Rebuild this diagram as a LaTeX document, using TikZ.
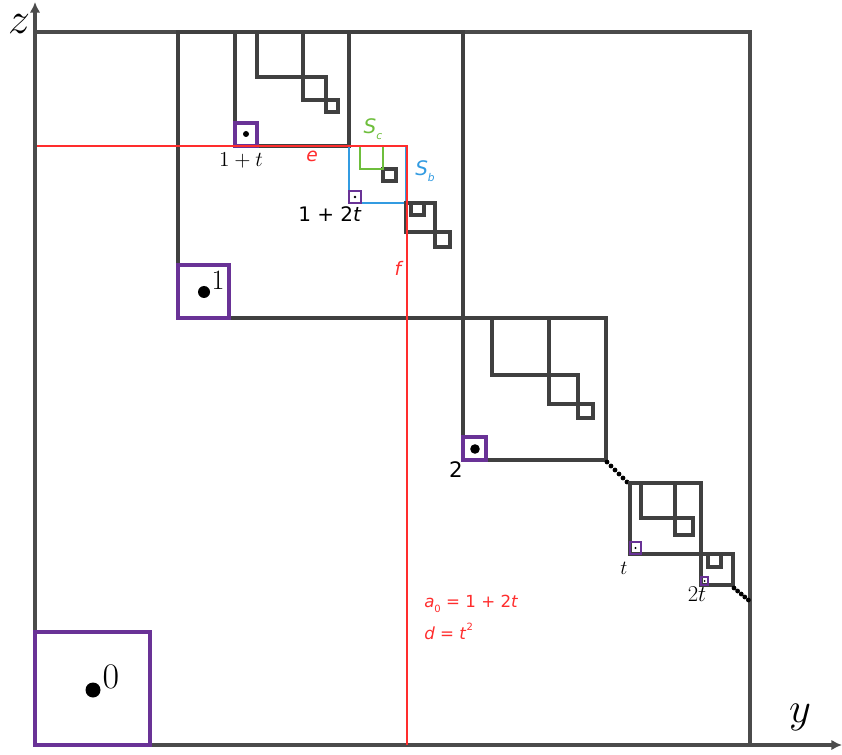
\RequirePackage{fix-cm}
\documentclass[tikz,border=0pt]{standalone}
\usepackage{fontspec}
\usepackage{amsmath}
\usetikzlibrary{arrows.meta}
\newfontfamily\sansf{DejaVu Sans}

\definecolor{framegray}{RGB}{75,75,75}
\definecolor{purp}{RGB}{105,50,150}
\definecolor{sqgreen}{RGB}{110,190,60}
\definecolor{sqblue}{RGB}{50,155,225}
\definecolor{redline}{RGB}{255,45,45}

\tikzset{
  outer/.style={draw=framegray, line width=2.6pt},
  box/.style={draw=black!75, line width=2.4pt},
  marker/.style={draw=purp, line width=2.4pt},
  lab/.style={inner sep=0pt},
}

\begin{document}
\begin{tikzpicture}[x=0.75pt, y=-0.75pt]
    \useasboundingbox (0,0) rectangle (842,755);

    % Axes and outer square
    \draw[framegray, line width=2.6pt, -{Latex[length=8pt,width=8pt]}] (35,745) -- (35,2);
    \draw[framegray, line width=2.6pt, -{Latex[length=8pt,width=8pt]}] (35,745) -- (842,745);
    \draw[outer] (35,32) -- (750,32) -- (750,745);
    \node[lab, font=\fontsize{33}{37}\selectfont] (zlab) at (19,24) {$z$};
    \node[lab, font=\fontsize{32}{36}\selectfont] (ylab) at (800,717) {$y$};

    % Square 0
    \draw[marker] (35,632) rectangle (150,745);
    \fill (93,690) circle (7.5);
    \node[lab, font=\fontsize{27}{31}\selectfont] (lab0) at (111,677) {$0$};

    % Square 1
    \draw[box] (178,32) rectangle (463,318);
    \draw[marker] (178,265) rectangle (229,318);
    \fill (204,292) circle (6);
    \node[lab, font=\fontsize{21}{25}\selectfont] (lab1) at (218,280) {$1$};

    % Square 1+t and its staircase
    \draw[box] (235,32) rectangle (349,146);
    \draw[marker] (235,123) rectangle (257,146);
    \fill (246,134) circle (3);
    \node[lab, font=\fontsize{16}{19}\selectfont] (lab1t) at (241,160) {$1+t$};
    \draw[box] (257,32) rectangle (303,77);
    \draw[box] (303,77) rectangle (326,100);
    \draw[box] (326,100) rectangle (338,112);

    % Square S_b and S_c
    \draw[box] (383,169) rectangle (396,181);
    \draw[sqgreen, line width=2.2pt] (360,146) rectangle (383,169);
    \draw[sqblue, line width=2.2pt] (349,146) rectangle (406,203);
    \draw[marker, line width=2.2pt] (349,191) rectangle (361,203);
    \fill (355,197) circle (1.3);
    \node[lab, text=sqgreen, font=\sansf\fontsize{15}{18}\selectfont] (labSc) at (373,129) {\textit{S}\raisebox{-0.6ex}{\fontsize{8}{9}\selectfont\textit{c}}};
    \node[lab, text=sqblue, font=\sansf\fontsize{15}{18}\selectfont] (labSb) at (425,171) {\textit{S}\raisebox{-0.6ex}{\fontsize{8}{9}\selectfont\textit{b}}};
    \node[lab, font=\sansf\fontsize{15}{18}\selectfont] (lab12t) at (330,214) {1 + 2\textit{t}};

    % Smaller squares after S_b
    \draw[box] (406,203) rectangle (435,232);
    \draw[box] (411,203) rectangle (424,215);
    \draw[box] (435,232) rectangle (450,247);

    % Square 2
    \draw[box] (463,318) rectangle (606,460);
    \draw[box] (492,318) rectangle (549,375);
    \draw[box] (549,375) rectangle (578,404);
    \draw[box] (578,404) rectangle (593,418);
    \draw[marker] (463,437) rectangle (486,460);
    \fill (475,449) circle (4.8);
    \node[lab, font=\sansf\fontsize{16}{19}\selectfont] (lab2) at (456,470) {2};

    % Dots between square 2 and square t
    \foreach \i in {0,...,5} {
        \fill (607+4*\i, 462+4*\i) circle (2.4);
    }

    % Square t
    \draw[box] (630,483) rectangle (701,554);
    \draw[box] (641,483) rectangle (675,518);
    \draw[box] (675,518) rectangle (693,535);
    \draw[marker, line width=2.2pt] (630,542) rectangle (641,554);
    \fill (635.5,548) circle (1.2);
    \node[lab, font=\fontsize{15}{18}\selectfont] (labt) at (624,568) {$t$};

    % Square 2t
    \draw[box] (701,554) rectangle (733,585);
    \draw[box] (708,554) rectangle (721,567);
    \draw[marker, line width=2pt] (701,577) rectangle (708,585);
    \fill (704.5,581) circle (1);
    \node[lab, font=\fontsize{17}{20}\selectfont] (lab2t) at (697,594) {$2t$};

    % Dots after square 2t
    \foreach \i in {0,...,4} {
        \fill (734+3.6*\i, 588+3*\i) circle (2.4);
    }

    % Red lines e and f
    \draw[redline, line width=1.3pt] (37,146) -- (407,146) -- (407,745);
    \node[lab, text=redline, font=\sansf\fontsize{14}{16}\selectfont] (labe) at (312,156) {\textit{e}};
    \node[lab, text=redline, font=\sansf\fontsize{14}{16}\selectfont] (labf) at (399,268) {\textit{f}};

    % Progression
    \node[lab, anchor=west, text=redline, font=\sansf\fontsize{12.5}{15}\selectfont] (laba) at (424,604) {\textit{a}\raisebox{-0.6ex}{\fontsize{7.5}{9}\selectfont 0} = 1 + 2\textit{t}};
    \node[lab, anchor=west, text=redline, font=\sansf\fontsize{12.5}{15}\selectfont] (labd) at (424,631) {\textit{d} = \textit{t}\raisebox{1ex}{\fontsize{7.5}{9}\selectfont 2}};
\end{tikzpicture}
\end{document}
